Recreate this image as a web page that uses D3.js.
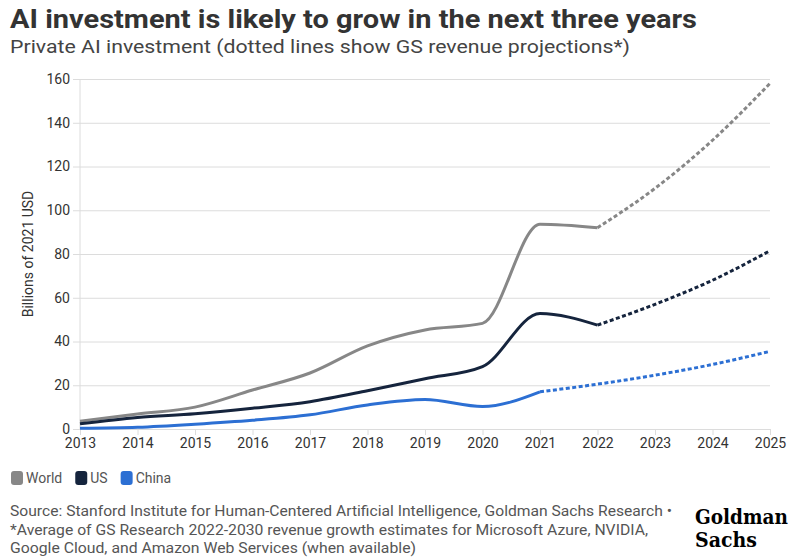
<!DOCTYPE html>
<html>
<head>
<meta charset="utf-8">
<script src="https://cdn.jsdelivr.net/npm/d3@7"></script>
<style>
  body { margin: 0; background: #fff; }
  text { font-family: Roboto, "Noto Sans", sans-serif; }
</style>
</head>
<body>
<svg id="chart" width="797" height="560"></svg>
<script>
// data (billions of 2021 USD)
const years = [2013, 2014, 2015, 2016, 2017, 2018, 2019, 2020, 2021, 2022, 2023, 2024, 2025];
const world = [3.6, 6.9, 10, 17.8, 25.6, 38, 45.3, 48.3, 93.6, 92, 110, 132, 158];
const us = [2.4, 5.3, 7, 9.5, 12.5, 17.5, 23, 28.5, 52.8, 47.5, 57, 68, 81.5];
const china = [0.3, 0.8, 2.2, 4, 6.5, 11, 13.5, 10.3, 17, 20.5, 24.6, 29.5, 35.5];
// last actual year per series, projections after that
const lastActual = {World: 2022, US: 2022, China: 2021};
const yTicks = [0, 20, 40, 60, 80, 100, 120, 140, 160];

const series = [
  {name: "World", values: world, color: "#878787"},
  {name: "US", values: us, color: "#15243d"},
  {name: "China", values: china, color: "#2c6fd3"}
];

const svg = d3.select("#chart");
const margin = {t: 79, r: 27, b: 131, l: 80};
const width = +svg.attr("width");
const height = +svg.attr("height");
const graphWidth = width - margin.l - margin.r;
const graphHeight = height - margin.t - margin.b;

// titles (stretched to the reference widths)
svg.append("text").attr("x", 10).attr("y", 28)
  .attr("font-size", 25).attr("font-weight", 700).attr("fill", "#333")
  .attr("textLength", 687).attr("lengthAdjust", "spacingAndGlyphs")
  .text("AI investment is likely to grow in the next three years");
svg.append("text").attr("x", 10).attr("y", 53)
  .attr("font-size", 18).attr("fill", "#444")
  .attr("textLength", 620).attr("lengthAdjust", "spacingAndGlyphs")
  .text("Private AI investment (dotted lines show GS revenue projections*)");

const graph = svg.append("g").attr("transform", `translate(${margin.l},${margin.t})`);

const x = d3.scaleLinear().domain([2013, 2025]).range([0, graphWidth]);
const y = d3.scaleLinear().domain([0, 160]).range([graphHeight, 0]);

// y axis with gridlines
const yAxisGroup = graph.append("g")
  .call(d3.axisLeft(y).tickValues(yTicks).tickSize(-graphWidth).tickPadding(10));
yAxisGroup.select(".domain").remove();
yAxisGroup.selectAll(".tick line").attr("stroke", "#dcdcdc").attr("x1", -7);
yAxisGroup.selectAll(".tick text").attr("font-size", 14).attr("fill", "#333");

// x axis
const xAxisGroup = graph.append("g").attr("transform", `translate(0,${graphHeight})`)
  .call(d3.axisBottom(x).tickValues(years).tickFormat(d3.format("d")).tickSize(6).tickPadding(3));
xAxisGroup.select(".domain").remove();
xAxisGroup.selectAll(".tick line").attr("stroke", "#dcdcdc");
xAxisGroup.selectAll(".tick text").attr("font-size", 14).attr("fill", "#333");

// vertical axis line
graph.append("line").attr("x1", 0).attr("x2", 0).attr("y1", 0).attr("y2", graphHeight)
  .attr("stroke", "#dcdcdc");

svg.append("text")
  .attr("transform", `translate(33,${margin.t + graphHeight / 2}) rotate(-90)`)
  .attr("text-anchor", "middle").attr("font-size", 14).attr("fill", "#333")
  .text("Billions of 2021 USD");

const line = d3.line()
  .x(d => x(d.year))
  .y(d => y(d.value))
  .curve(d3.curveMonotoneX);

series.forEach(s => {
  const pts = years.map((yr, i) => ({year: yr, value: s.values[i]}));
  const cut = lastActual[s.name];
  const actual = pts.filter(d => d.year <= cut);
  const proj = pts.filter(d => d.year >= cut);
  graph.append("path").datum(proj)
    .attr("d", line).attr("fill", "none")
    .attr("stroke", s.color).attr("stroke-width", 3)
    .attr("stroke-dasharray", "4,2.5");
  graph.append("path").datum(actual)
    .attr("d", line).attr("fill", "none")
    .attr("stroke", s.color).attr("stroke-width", 3)
    .attr("stroke-linejoin", "round");
});

// legend
const legend = svg.append("g").attr("transform", "translate(11,471)");
let lx = 0;
series.forEach(s => {
  const g = legend.append("g").attr("transform", `translate(${lx},0)`);
  g.append("rect").attr("width", 12).attr("height", 14).attr("rx", 3)
    .attr("fill", s.color);
  const t = g.append("text").attr("x", 15).attr("y", 12)
    .attr("font-size", 14).attr("fill", "#555").text(s.name);
  lx += 15 + t.node().getComputedTextLength() + 13;
});

// footer
const notes = [
  "Source: Stanford Institute for Human-Centered Artificial Intelligence, Goldman Sachs Research \u2022",
  "*Average of GS Research 2022-2030 revenue growth estimates for Microsoft Azure, NVIDIA,",
  "Google Cloud, and Amazon Web Services (when available)"
];
const noteWidths = [662, 638, 406];
svg.append("g").selectAll("text").data(notes).join("text")
  .attr("x", 10).attr("y", (d, i) => 516 + i * 18.5)
  .attr("font-size", 14.5).attr("fill", "#555")
  .attr("textLength", (d, i) => noteWidths[i]).attr("lengthAdjust", "spacingAndGlyphs")
  .text(d => d);

// logo
const logo = svg.append("g").attr("font-weight", 700).attr("fill", "#000").attr("font-size", 20);
logo.append("text").attr("x", 695).attr("y", 524).attr("textLength", 93)
  .attr("lengthAdjust", "spacingAndGlyphs").style("font-family", "'DejaVu Serif', serif")
  .text("Goldman");
logo.append("text").attr("x", 695).attr("y", 547).attr("textLength", 62)
  .attr("lengthAdjust", "spacingAndGlyphs").style("font-family", "'DejaVu Serif', serif")
  .text("Sachs");
</script>
</body>
</html>
